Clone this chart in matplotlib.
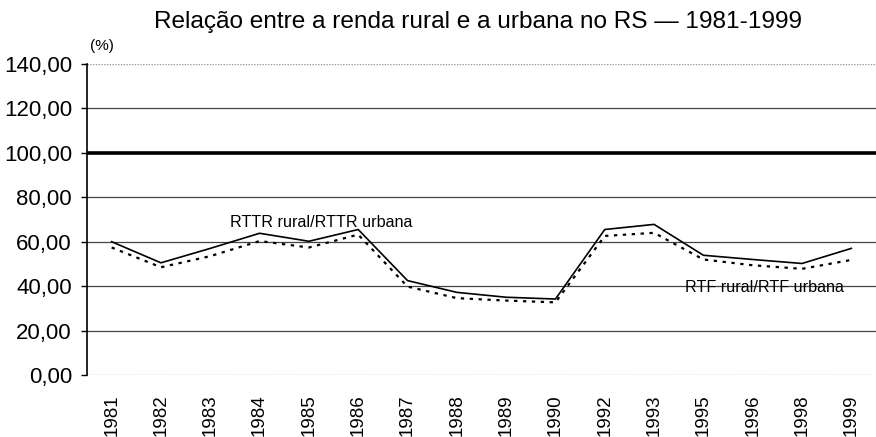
from matplotlib import pyplot as plt
import numpy as np

plt.rcParams['font.family'] = ['Liberation Sans', 'DejaVu Sans']

years = ['1981', '1982', '1983', '1984', '1985', '1986', '1987', '1988',
         '1989', '1990', '1992', '1993', '1995', '1996', '1998', '1999']
rttr = [60.0, 50.5, 57.0, 63.8, 60.2, 65.5, 42.5, 37.2,
        35.0, 34.2, 65.5, 67.8, 53.9, 52.0, 50.2, 57.0]
rtf = [57.4, 48.5, 53.5, 60.3, 57.4, 63.2, 39.8, 34.6,
       33.5, 32.7, 62.6, 64.0, 52.0, 49.4, 47.8, 51.8]
y_ticks = [0, 20, 40, 60, 80, 100, 120, 140]

fig = plt.figure(figsize=(8.76, 4.37), dpi=100)
ax = fig.add_axes([0.0993, 0.1419, 0.9007, 0.7116])

x = np.arange(len(years))

# gridlines
for v in y_ticks:
    if v in (0, 140):
        ax.axhline(v, color='#9a9a9a', lw=1.0, ls=(0, (1, 1)), zorder=1)
    elif v == 100:
        ax.axhline(v, color='black', lw=2.6, zorder=1)
    else:
        ax.axhline(v, color='#444444', lw=0.9, zorder=1)

ax.plot(x, rttr, color='black', lw=1.2, zorder=3)
ax.plot(x, rtf, color='black', lw=1.6, ls=(0, (1.5, 2.5)), zorder=3)

ax.text(2.4, 68.5, 'RTTR rural/RTTR urbana', fontsize=11.6, va='center', ha='left')
ax.text(11.62, 39.5, 'RTF rural/RTF urbana', fontsize=11.6, va='center', ha='left')

ax.set_xlim(-0.5, len(years) - 0.5)
ax.set_ylim(0, 140)
ax.set_yticks(y_ticks)
ax.set_yticklabels([f'{v},00' for v in y_ticks], fontsize=16)
ax.set_xticks(x)
ax.set_xticklabels(years, rotation=90, fontsize=13.5)
ax.tick_params(axis='x', length=0, pad=14)
ax.tick_params(axis='y', length=4.3, width=1, pad=6.5)

for s in ['top', 'right', 'bottom']:
    ax.spines[s].set_visible(False)
ax.spines['left'].set_linewidth(1.2)

fig.text(0.546, 0.95, 'Relação entre a renda rural e a urbana no RS — 1981-1999',
         fontsize=17.6, ha='center', va='center')
fig.text(0.103, 0.895, '(%)', fontsize=11, ha='left', va='center')

fig.savefig('out.png', dpi=100)
